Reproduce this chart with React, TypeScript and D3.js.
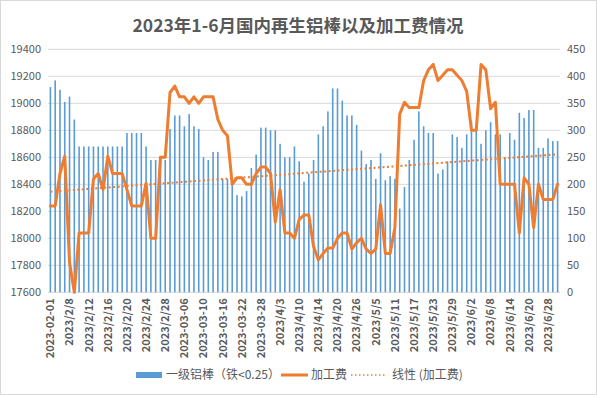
import React from "react";
import * as d3 from "d3";

const title = "2023年1-6月国内再生铝棒以及加工费情况";

const dates: string[] = [
  "2023-02-01","2023/2/2","2023/2/3","2023/2/6","2023/2/8","2023/2/9","2023/2/10","2023/2/11",
  "2023/2/12","2023/2/13","2023/2/14","2023/2/15","2023/2/16","2023/2/17","2023/2/18","2023/2/19",
  "2023/2/20","2023/2/21","2023/2/22","2023/2/23","2023/2/24","2023/2/25","2023/2/26","2023/2/27",
  "2023/2/28","2023-03-01","2023-03-02","2023-03-03","2023-03-06","2023-03-07","2023-03-08","2023-03-09",
  "2023-03-10","2023-03-13","2023-03-14","2023-03-15","2023-03-16","2023-03-17","2023-03-20","2023-03-21",
  "2023-03-22","2023-03-23","2023-03-24","2023-03-27","2023-03-28","2023-03-29","2023-03-30","2023-03-31",
  "2023/4/3","2023/4/4","2023/4/6","2023/4/7","2023/4/10","2023/4/11","2023/4/12","2023/4/13",
  "2023/4/14","2023/4/17","2023/4/18","2023/4/19","2023/4/20","2023/4/21","2023/4/24","2023/4/25",
  "2023/4/26","2023/4/27","2023/4/28","2023/5/4","2023/5/5","2023/5/8","2023/5/9","2023/5/10",
  "2023/5/11","2023/5/12","2023/5/15","2023/5/16","2023/5/17","2023/5/18","2023/5/19","2023/5/22",
  "2023/5/23","2023/5/24","2023/5/25","2023/5/26","2023/5/29","2023/5/30","2023/5/31","2023/6/1",
  "2023/6/2","2023/6/5","2023/6/6","2023/6/7","2023/6/8","2023/6/9","2023/6/12","2023/6/13",
  "2023/6/14","2023/6/15","2023/6/16","2023/6/19","2023/6/20","2023/6/21","2023/6/26","2023/6/27",
  "2023/6/28","2023/6/29","2023/6/30",
];

// 一级铝棒（铁<0.25） — left axis
const barValues: number[] = [
  19120, 19170, 19100, 19010, 19050, 18880, 18680, 18680,
  18680, 18680, 18680, 18680, 18680, 18680, 18680, 18680,
  18780, 18780, 18780, 18780, 18680, 18580, 18580, 18580,
  18580, 18810, 18910, 18910, 18830, 18920, 18830, 18810,
  18600, 18580, 18640, 18640, 18440, 18440, 18420, 18320,
  18310, 18350, 18520, 18620, 18820, 18820, 18800, 18800,
  18700, 18600, 18600, 18680, 18570, 18420, 18480, 18580,
  18770, 18830, 18940, 19110, 19110, 19020, 18910, 18910,
  18840, 18650, 18550, 18580, 18440, 18630, 18430, 18460,
  18440, 18220, 18380, 18580, 18730, 18940, 18830, 18780,
  18780, 18480, 18510, 18570, 18770, 18750, 18670, 18770,
  18870, 18800, 18700, 18800, 18860, 18770, 18770, 18600,
  18780, 18730, 18930, 18890, 18950, 18950, 18670, 18670,
  18740, 18720, 18720,
];

// 加工费 — right axis
const feeValues: number[] = [
  160, 160, 220, 252, 55, 0, 110, 110,
  110, 210, 220, 190, 252, 220, 220, 220,
  190, 160, 160, 160, 202, 100, 100, 250,
  250, 370, 382, 362, 362, 350, 362, 350,
  362, 362, 362, 320, 300, 290, 200, 212,
  212, 200, 200, 220, 232, 232, 220, 130,
  190, 110, 110, 100, 135, 143, 143, 85,
  60, 72, 82, 82, 100, 110, 110, 80,
  92, 100, 80, 72, 80, 162, 72, 72,
  120, 330, 352, 342, 342, 342, 392, 412,
  422, 392, 402, 412, 412, 402, 392, 372,
  300, 300, 422, 412, 340, 352, 200, 200,
  200, 200, 110, 212, 200, 120, 200, 172,
  172, 172, 200,
];

const leftTicks: number[] = [17600, 17800, 18000, 18200, 18400, 18600, 18800, 19000, 19200, 19400];
const rightTicks: number[] = [0, 50, 100, 150, 200, 250, 300, 350, 400, 450];
const legendLabels: string[] = ["一级铝棒（铁<0.25）", "加工费", "线性 (加工费)"];

const W = 597;
const H = 395;
const plotL = 48;
const plotR = 560;
const plotT = 49.3;
const plotB = 292.3;
const FONT = "'Noto Sans CJK SC', 'Noto Sans', sans-serif";
const TXT = "#595959";
const BLUE = "#5B9BD5";
const ORANGE = "#ED7D31";

export default function App() {
  const x = d3.scaleBand<string>().domain(dates).range([plotL, plotR]).padding(0);
  const yL = d3.scaleLinear().domain([17600, 19400]).range([plotB, plotT]);
  const yR = d3.scaleLinear().domain([0, 450]).range([plotB, plotT]);
  const bw = x.bandwidth();
  const barW = bw / 3;
  const cx = (d: string) => (x(d) as number) + bw / 2;

  const line = d3
    .line<number>()
    .x((_, i) => cx(dates[i]))
    .y((v) => yR(v));

  // linear trendline (least squares on index)
  const n = feeValues.length;
  const xs = feeValues.map((_, i) => i + 1);
  const mx = d3.mean(xs) as number;
  const my = d3.mean(feeValues) as number;
  let sxy = 0;
  let sxx = 0;
  xs.forEach((xi, i) => {
    sxy += (xi - mx) * (feeValues[i] - my);
    sxx += (xi - mx) * (xi - mx);
  });
  const slope = sxy / sxx;
  const icpt = my - slope * mx;
  const trend = (xi: number) => icpt + slope * xi;

  return (
    <svg
      width={W}
      height={H}
      style={{ position: "absolute", left: 0, top: 0, fontFamily: FONT }}
    >
      <rect x={0.5} y={0.5} width={W - 1} height={H - 1} fill="#fff" stroke="#d9d9d9" />
      <text
        x={298}
        y={32}
        textAnchor="middle"
        fontSize={17.5}
        fontWeight="bold"
        fill={TXT}
      >
        {title}
      </text>

      {leftTicks.map((t) => (
        <line
          key={"g" + t}
          x1={plotL}
          x2={plotR}
          y1={yL(t)}
          y2={yL(t)}
          stroke="#d9d9d9"
          strokeWidth={1}
        />
      ))}
      {leftTicks.map((t) => (
        <text
          key={"l" + t}
          x={41}
          y={yL(t)}
          dy="0.35em"
          textAnchor="end"
          fontSize={11}
          fill={TXT}
        >
          {t}
        </text>
      ))}
      {rightTicks.map((t) => (
        <text
          key={"r" + t}
          x={567}
          y={yR(t)}
          dy="0.35em"
          textAnchor="start"
          fontSize={11}
          fill={TXT}
        >
          {t}
        </text>
      ))}

      {barValues.map((v, i) => (
        <rect
          key={"b" + i}
          x={cx(dates[i]) - barW / 2}
          y={yL(v)}
          width={barW}
          height={yL(17600) - yL(v)}
          fill={BLUE}
        />
      ))}

      <path
        d={line(feeValues) as string}
        fill="none"
        stroke={ORANGE}
        strokeWidth={3}
        strokeLinejoin="round"
        strokeLinecap="round"
      />
      <line
        x1={cx(dates[0])}
        x2={cx(dates[n - 1])}
        y1={yR(trend(1))}
        y2={yR(trend(n))}
        stroke={ORANGE}
        strokeWidth={2}
        strokeDasharray="2 2.5"
      />

      {dates.map((d, i) =>
        i % 4 === 0 ? (
          <text
            key={"x" + i}
            transform={`translate(${cx(d)},${plotB + 6}) rotate(-90)`}
            dy="0.35em"
            textAnchor="end"
            fontSize={11}
            fontWeight="bold"
            fill={TXT}
          >
            {d}
          </text>
        ) : null
      )}

      {/* legend */}
      <rect x={136} y={372} width={26} height={6} fill={BLUE} />
      <text x={166} y={375} dy="0.35em" fontSize={12} fill={TXT}>
        {legendLabels[0]}
      </text>
      <line x1={281} x2={308} y1={375} y2={375} stroke={ORANGE} strokeWidth={3} />
      <text x={311} y={375} dy="0.35em" fontSize={12} fill={TXT}>
        {legendLabels[1]}
      </text>
      <line
        x1={351}
        x2={385}
        y1={375}
        y2={375}
        stroke={ORANGE}
        strokeWidth={1.5}
        strokeDasharray="1.5 2.5"
      />
      <text x={392} y={375} dy="0.35em" fontSize={12} fill={TXT}>
        {legendLabels[2]}
      </text>
    </svg>
  );
}
